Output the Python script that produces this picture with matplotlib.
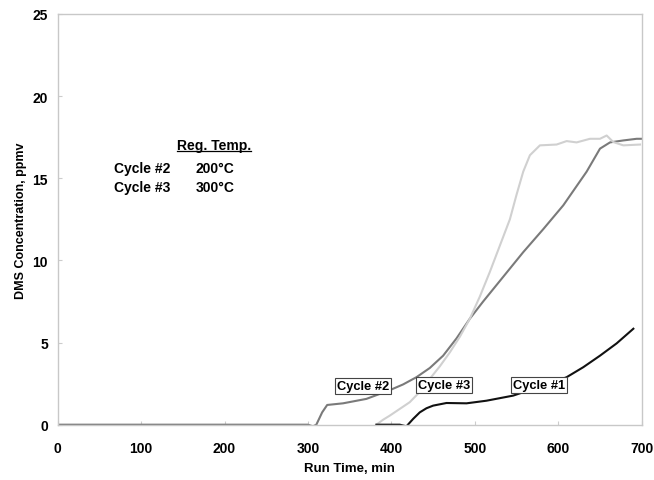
import matplotlib
matplotlib.use("Agg")
import matplotlib.pyplot as plt
from matplotlib.lines import Line2D

plt.rcParams['font.family'] = ['Liberation Sans', 'DejaVu Sans']
plt.rcParams['font.weight'] = 'bold'

# Cycle #1 (black)
c1_t = [382, 410, 418, 426, 434, 442, 450, 466, 490, 514, 546, 570, 590, 610, 630, 650, 670, 690]
c1_y = [0.0, 0.0, -0.1, 0.35, 0.75, 1.0, 1.16, 1.32, 1.3, 1.46, 1.77, 2.18, 2.5, 2.89, 3.5,
        4.2, 4.95, 5.84]

# Cycle #2 (medium gray), 200 °C regeneration
c2_t = [0, 100, 200, 300, 306, 310, 317, 323, 342, 370, 398, 414, 430, 446, 462, 478, 494,
        510, 526, 542, 558, 582, 606, 634, 650, 662, 678, 694, 700]
c2_y = [0.0, 0.0, 0.0, 0.0, -0.1, 0.0, 0.75, 1.2, 1.3, 1.57, 2.1, 2.45, 2.89, 3.45, 4.2,
        5.25, 6.45, 7.5, 8.5, 9.5, 10.5, 11.9, 13.35, 15.4, 16.8, 17.18, 17.3, 17.4, 17.4]

# Cycle #3 (light gray), 300 °C regeneration
c3_t = [382, 390, 398, 410, 422, 434, 446, 458, 470, 482, 494, 506, 518, 530, 542, 550,
        558, 566, 578, 598, 610, 622, 638, 650, 658, 666, 678, 698]
c3_y = [0.0, 0.3, 0.55, 0.96, 1.37, 2.0, 2.79, 3.55, 4.4, 5.35, 6.45, 7.8, 9.3, 10.9, 12.5,
        14.0, 15.4, 16.4, 17.0, 17.05, 17.26, 17.18, 17.4, 17.4, 17.6, 17.2, 17.0, 17.05]

x_ticks = [0, 100, 200, 300, 400, 500, 600, 700]
y_ticks = [0, 5, 10, 15, 20, 25]

fig = plt.figure(figsize=(6.54, 4.81), dpi=100)
ax = fig.add_axes([0.0882, 0.115, 0.893, 0.854])

ax.plot(c2_t, c2_y, color='#7a7a7a', lw=1.5)
ax.plot(c3_t, c3_y, color='#d0d0d0', lw=1.5)
ax.plot(c1_t, c1_y, color='#111111', lw=1.5)

ax.set_xlim(0, 700)
ax.set_ylim(0, 25)
ax.set_xticks(x_ticks)
ax.set_yticks(y_ticks)
ax.tick_params(direction='in', length=3, color='#cccccc', labelsize=10)
ax.tick_params(axis='x', pad=12)
ax.tick_params(axis='y', pad=7)
for lab in ax.get_xticklabels() + ax.get_yticklabels():
    lab.set_fontweight('bold')
for sp in ax.spines.values():
    sp.set_color('#c8c8c8')
    sp.set_linewidth(1.0)

ax.set_xlabel('Run Time, min', fontsize=9.5, fontweight='bold', labelpad=5)
ax.set_ylabel('DMS Concentration, ppmv', fontsize=9, fontweight='bold', labelpad=4)

box = dict(boxstyle='square,pad=0.15', fc='white', ec='#444444', lw=0.8)
ax.text(366, 2.35, 'Cycle #2', fontsize=9.3, fontweight='bold', ha='center', va='center', bbox=box)
ax.text(463, 2.4, 'Cycle #3', fontsize=9.3, fontweight='bold', ha='center', va='center', bbox=box)
ax.text(577, 2.4, 'Cycle #1', fontsize=9.3, fontweight='bold', ha='center', va='center', bbox=box)

hdr = ax.text(143, 17.0, 'Reg. Temp.', fontsize=10, fontweight='bold', ha='left', va='center')
ax.text(67, 15.65, 'Cycle #2', fontsize=10, fontweight='bold', ha='left', va='center')
ax.text(165, 15.65, '200°C', fontsize=10, fontweight='bold', ha='left', va='center')
ax.text(67, 14.45, 'Cycle #3', fontsize=10, fontweight='bold', ha='left', va='center')
ax.text(165, 14.45, '300°C', fontsize=10, fontweight='bold', ha='left', va='center')

# underline the table header
fig.canvas.draw()
bb = hdr.get_window_extent(renderer=fig.canvas.get_renderer())
inv = fig.transFigure.inverted()
(x0, y0), (x1, _) = inv.transform([(bb.x0, bb.y0 + 1), (bb.x1, bb.y0 + 1)])
fig.add_artist(Line2D([x0, x1], [y0, y0], color='black', lw=0.9, transform=fig.transFigure))

fig.savefig('out.png', dpi=100)
